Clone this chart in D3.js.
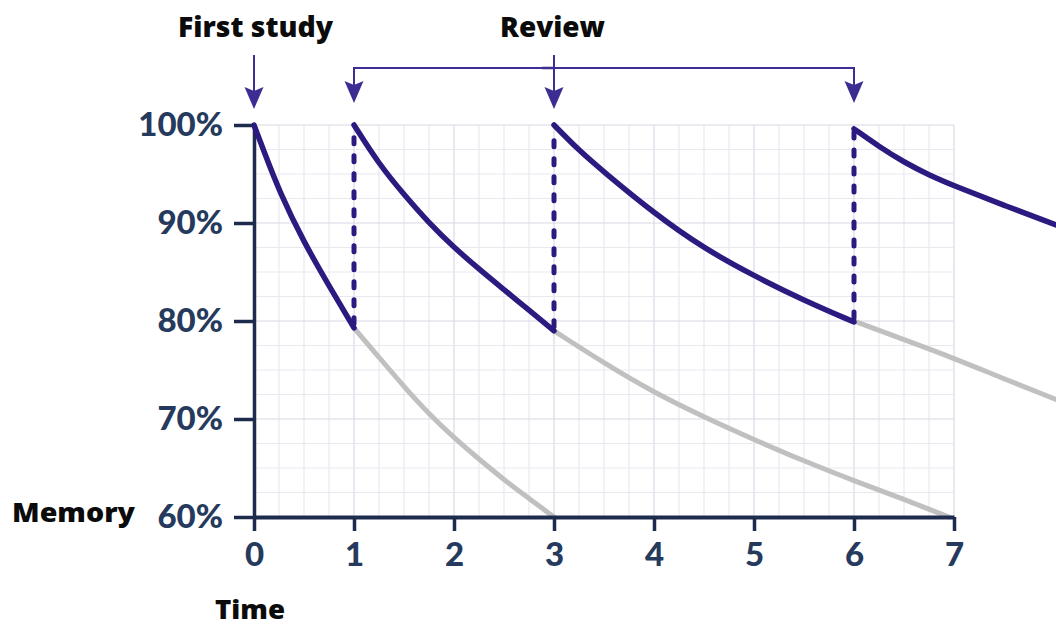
<!DOCTYPE html>
<html>
<head>
<meta charset="utf-8">
<script src="https://cdn.jsdelivr.net/npm/d3@7"></script>
<style>
  html, body { margin: 0; padding: 0; background: #ffffff; }
  svg { display: block; }
</style>
</head>
<body>
<script>
// ---------- DATA ----------
const timeTicks = [0, 1, 2, 3, 4, 5, 6, 7];
const memoryTicks = [60, 70, 80, 90, 100];
const firstStudyTime = 0;
const reviewTimes = [1, 3, 6];

// remembered (after each study / review) : [time, memory %]
const retained0 = [[0, 100], [0.1, 97.3], [0.25, 93.3], [0.5, 88], [0.75, 83.6], [1, 79.3]];
const retained1 = [[1, 100], [1.25, 96], [1.5, 92.9], [1.75, 90], [2, 87.5], [2.25, 85.3], [2.5, 83.2], [2.75, 81.1], [3, 79]];
const retained2 = [[3, 100], [3.25, 97.4], [3.5, 95.2], [4, 91], [4.5, 87.4], [5, 84.6], [5.5, 82.1], [6, 79.9]];
const retained3 = [[6, 99.6], [6.25, 97.8], [6.5, 96.2], [6.75, 94.9], [7, 93.8], [7.5, 91.8], [8.02, 89.8]];

// forgetting without review
const forgotten1 = [[1, 79.3], [1.25, 76.3], [1.5, 73.3], [1.75, 70.5], [2, 68.1], [2.25, 65.9], [2.5, 63.8], [2.75, 61.9], [3, 60]];
const forgotten2 = [[3, 79], [3.5, 75.7], [4, 72.7], [4.5, 70.2], [5, 67.9], [5.5, 65.7], [6, 63.7], [6.5, 61.8], [6.95, 60]];
const forgotten3 = [[6, 80], [6.5, 78.1], [7, 76.2], [7.5, 74.1], [8.02, 72]];

// review jumps: [time, memory before review]
const reviewJumps = [[1, 79.3], [3, 79], [6, 79.9]];

// ---------- STYLE ----------
const W = 1056, H = 627;
const PURPLE = "#2c1a80";
const ARROW = "#3b2d92";
const GRAY = "#c0c0c0";
const AXIS = "#1d2b4c";
const TICKTXT = "#253a5c";

const svg = d3.select("body").append("svg")
  .attr("width", W).attr("height", H)
  .attr("viewBox", `0 0 ${W} ${H}`);
svg.append("rect").attr("width", W).attr("height", H).attr("fill", "#fff");

const x = d3.scaleLinear().domain([0, 7]).range([254, 954]);
const y = d3.scaleLinear().domain([60, 100]).range([517, 125]);

// ---------- GRID ----------
const grid = svg.append("g");
const vGrid = d3.range(0, 7.0001, 0.25);
const hGrid = d3.range(60, 100.0001, 2.5);
grid.selectAll(".vg").data(vGrid).join("line")
  .attr("x1", d => x(d)).attr("x2", d => x(d))
  .attr("y1", y(60)).attr("y2", y(100))
  .attr("stroke", d => Number.isInteger(d) ? "#d6dae4" : "#e7e9ef")
  .attr("stroke-width", 1.2);
grid.selectAll(".hg").data(hGrid).join("line")
  .attr("x1", x(0)).attr("x2", x(7))
  .attr("y1", d => y(d)).attr("y2", d => y(d))
  .attr("stroke", d => (d % 10 === 0) ? "#d6dae4" : "#e7e9ef")
  .attr("stroke-width", 1.2);

const line = d3.line()
  .x(d => x(d[0])).y(d => y(d[1]))
  .curve(d3.curveBasis);

// ---------- FORGETTING (gray) ----------
svg.append("g").selectAll("path").data([forgotten1, forgotten2, forgotten3]).join("path")
  .attr("d", line)
  .attr("fill", "none")
  .attr("stroke", GRAY)
  .attr("stroke-width", 5)
  .attr("stroke-linecap", "round");

// ---------- AXES ----------
const yAxis = svg.append("g")
  .attr("transform", `translate(${x(0)},0)`)
  .call(d3.axisLeft(y).tickValues(memoryTicks).tickFormat(d => d + "%")
    .tickSize(20).tickSizeOuter(0).tickPadding(11));
yAxis.select(".domain").attr("stroke", AXIS).attr("stroke-width", 3.5);
yAxis.selectAll(".tick line").attr("stroke", AXIS).attr("stroke-width", 3.5);
yAxis.selectAll(".tick text")
  .attr("fill", TICKTXT)
  .style("font-family", "Lato, 'Open Sans', sans-serif")
  .style("font-weight", "900")
  .style("font-size", "33px");

const xAxis = svg.append("g")
  .attr("transform", `translate(0,${y(60)})`)
  .call(d3.axisBottom(x).tickValues(timeTicks).tickFormat(d3.format("d"))
    .tickSize(14).tickSizeOuter(0).tickPadding(12));
xAxis.select(".domain").attr("stroke", AXIS).attr("stroke-width", 4);
xAxis.selectAll(".tick line").attr("stroke", AXIS).attr("stroke-width", 3.5);
xAxis.selectAll(".tick text")
  .attr("fill", TICKTXT)
  .style("font-family", "Lato, 'Open Sans', sans-serif")
  .style("font-weight", "900")
  .style("font-size", "33px");

// ---------- RETAINED (purple) ----------
svg.append("g").selectAll("path").data([retained0, retained1, retained2, retained3]).join("path")
  .attr("d", line)
  .attr("fill", "none")
  .attr("stroke", PURPLE)
  .attr("stroke-width", 5.5)
  .attr("stroke-linecap", "round")
  .attr("stroke-linejoin", "round");

// dashed review jumps
svg.append("g").selectAll("line").data(reviewJumps).join("line")
  .attr("x1", d => x(d[0])).attr("x2", d => x(d[0]))
  .attr("y1", d => y(d[1]) - 4).attr("y2", y(100) + 4)
  .attr("stroke", PURPLE)
  .attr("stroke-width", 5)
  .attr("stroke-linecap", "round")
  .attr("stroke-dasharray", "6,12");

// ---------- ANNOTATION ARROWS ----------
const ann = svg.append("g");
function arrowHead(cx, tipY) {
  const h = 22, w = 9.5;
  ann.append("path")
    .attr("d", `M${cx - w},${tipY - h} L${cx},${tipY - h + 4} L${cx + w},${tipY - h} L${cx},${tipY} Z`)
    .attr("fill", ARROW);
}
// first study
ann.append("line")
  .attr("x1", x(firstStudyTime)).attr("x2", x(firstStudyTime))
  .attr("y1", 55).attr("y2", 95)
  .attr("stroke", ARROW).attr("stroke-width", 2);
arrowHead(x(firstStudyTime), 109);

// review bracket
const rFirst = reviewTimes[0], rLast = reviewTimes[reviewTimes.length - 1];
ann.append("path")
  .attr("d", `M${x(rFirst)},90 L${x(rFirst)},68 L${x(rLast)},68 L${x(rLast)},90`)
  .attr("fill", "none")
  .attr("stroke", ARROW).attr("stroke-width", 2);
arrowHead(x(rFirst), 103);
arrowHead(x(rLast), 103);
reviewTimes.slice(1, -1).forEach(t => {
  ann.append("line")
    .attr("x1", x(t)).attr("x2", x(t))
    .attr("y1", 55).attr("y2", 95)
    .attr("stroke", ARROW).attr("stroke-width", 2);
  ann.append("line")
    .attr("x1", x(t) - 12).attr("x2", x(t))
    .attr("y1", 68).attr("y2", 68)
    .attr("stroke", ARROW).attr("stroke-width", 2.5);
  arrowHead(x(t), 109);
});

// ---------- LABELS ----------
const lab = svg.append("g")
  .style("font-family", "'Open Sans', Lato, sans-serif")
  .style("font-weight", "800")
  .attr("fill", "#0b0b0b");
lab.append("text").text("First study")
  .attr("x", 178).attr("y", 37)
  .style("font-size", "29px")
  .attr("textLength", 155).attr("lengthAdjust", "spacingAndGlyphs");
lab.append("text").text("Review")
  .attr("x", 500).attr("y", 37)
  .style("font-size", "29px")
  .attr("textLength", 105).attr("lengthAdjust", "spacingAndGlyphs");
lab.append("text").text("Memory")
  .attr("x", 12).attr("y", 522)
  .style("font-size", "27px")
  .attr("textLength", 123).attr("lengthAdjust", "spacingAndGlyphs");
lab.append("text").text("Time")
  .attr("x", 215).attr("y", 619)
  .style("font-size", "26px")
  .attr("textLength", 70).attr("lengthAdjust", "spacingAndGlyphs");
</script>
</body>
</html>
